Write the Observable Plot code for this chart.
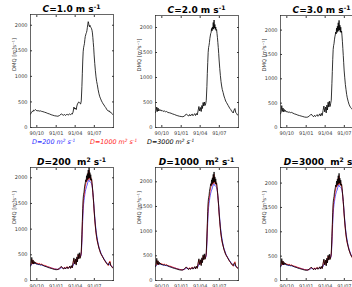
<!DOCTYPE html>
<html><head><meta charset="utf-8">
<script src="https://cdn.jsdelivr.net/npm/d3@7"></script>
<script src="https://cdn.jsdelivr.net/npm/@observablehq/plot@0.6"></script>
<style>
body{margin:0;background:#fff;}
#wrap{position:relative;width:352px;height:287px;overflow:hidden;background:#fff;font-family:"DejaVu Sans",sans-serif;}
.panel{position:absolute;}
.panel svg{max-width:none !important;}
.title{position:absolute;transform:translateX(-50%);white-space:pre;font-weight:bold;font-size:9px;color:#000;line-height:1;}
.sup{font-size:0.68em;position:relative;top:-0.45em;}
.leg{position:absolute;font-style:italic;font-size:6.4px;white-space:pre;line-height:1;}
</style></head><body><div id="wrap"></div>
<script>
// ---------- data ----------
const dates = [
"1990-09-01","1990-09-04","1990-09-07","1990-09-10","1990-09-13","1990-09-16","1990-09-19","1990-09-22","1990-09-25","1990-09-28",
"1990-10-02","1990-10-07","1990-10-12","1990-10-18","1990-10-24","1990-10-30",
"1990-11-06","1990-11-14","1990-11-22","1990-11-30",
"1990-12-08","1990-12-16","1990-12-24",
"1991-01-01","1991-01-09","1991-01-17","1991-01-25",
"1991-02-02","1991-02-06","1991-02-10","1991-02-14","1991-02-18","1991-02-22","1991-02-26",
"1991-03-02","1991-03-06","1991-03-10","1991-03-14","1991-03-18","1991-03-22","1991-03-26","1991-03-30",
"1991-04-03","1991-04-06","1991-04-09","1991-04-12","1991-04-15","1991-04-18","1991-04-21","1991-04-24","1991-04-27","1991-04-30",
"1991-05-03","1991-05-05","1991-05-07","1991-05-09","1991-05-11","1991-05-13","1991-05-15","1991-05-17","1991-05-19","1991-05-21","1991-05-23","1991-05-25","1991-05-27","1991-05-29","1991-05-31",
"1991-06-02","1991-06-04","1991-06-06","1991-06-08","1991-06-10","1991-06-12","1991-06-14","1991-06-16","1991-06-18","1991-06-20","1991-06-22","1991-06-24","1991-06-26","1991-06-28","1991-06-30",
"1991-07-03","1991-07-06","1991-07-09","1991-07-12","1991-07-15","1991-07-19","1991-07-23","1991-07-27","1991-07-31",
"1991-08-04","1991-08-08","1991-08-12","1991-08-16","1991-08-20","1991-08-24","1991-08-28",
"1991-09-01","1991-09-05","1991-09-09","1991-09-13","1991-09-17","1991-09-21","1991-09-25","1991-09-29"
];
// top row, C = 1.0
const flowC1 = [
260,285,300,320,310,340,330,345,350,335,
325,330,320,325,315,310,
300,290,275,265,
250,240,230,
225,220,235,265,
245,240,255,235,250,260,240,
255,265,250,270,260,300,400,360,
380,350,420,460,480,500,490,470,460,520,
800,1050,1300,1480,1560,1600,1640,1720,1780,1810,1840,1860,1900,1960,2020,
2070,2040,1990,1970,2000,1980,1960,1950,1930,1900,1850,1760,1660,1560,1420,
1250,1110,990,900,840,740,660,600,560,
520,490,460,440,410,390,360,
335,320,330,300,300,275,260,250
];
// top row, C = 2.0 (also red line in bottom row)
const flowC2 = [
300,330,410,320,390,330,360,340,355,330,
345,320,335,315,320,300,
295,285,270,260,
245,235,225,
220,215,230,270,
240,230,260,230,255,270,235,
260,275,240,280,250,330,420,330,
400,320,440,380,500,430,510,440,470,540,
820,1080,1300,1500,1600,1640,1700,1780,1830,1880,1900,1980,1930,2010,1960,
2100,1970,2150,1990,2060,1960,2010,1940,1960,1880,1800,1700,1600,1480,1350,
1180,1040,920,830,760,700,630,580,530,
500,470,440,410,380,360,330,
310,290,350,380,300,280,250,240
];
// top row, C = 3.0
const flowC3 = [
280,320,450,330,400,320,370,330,350,320,
330,310,320,305,310,295,
280,270,255,245,
235,225,215,
210,215,240,275,
230,225,250,225,245,265,230,
250,280,235,290,245,350,440,320,
420,300,460,360,520,420,540,430,490,560,
900,1150,1400,1600,1680,1720,1800,1860,1900,1960,1920,2040,1950,2080,1970,
2150,1990,2200,2000,2100,1960,2060,1950,1980,1880,1760,1620,1480,1330,1180,
1020,880,780,680,610,540,480,440,410,
390,370,350,330,310,300,290,
280,270,320,350,280,260,240,230
];
// bottom row, black line
const flowBlack = [
280,320,450,330,400,320,370,330,350,320,
330,310,320,305,310,295,
280,270,255,245,
235,225,215,
210,215,240,275,
230,225,250,225,245,265,230,
250,280,235,290,245,350,440,320,
420,300,460,360,520,420,540,430,490,560,
900,1150,1400,1600,1680,1720,1800,1860,1900,1960,1920,2040,1950,2080,1970,
2150,1990,2200,2000,2100,1960,2060,1950,1980,1900,1820,1720,1620,1500,1370,
1200,1060,940,850,780,700,630,580,530,
500,470,440,410,385,360,335,
315,300,340,360,290,270,250,240
];
// bottom row, smooth blue line
const flowBlue = [
280,300,320,330,335,335,335,335,330,325,
320,315,310,305,300,295,
285,275,265,255,
245,235,225,
220,218,225,250,
245,235,245,240,245,255,245,
250,260,255,265,260,285,340,360,
370,360,400,430,460,470,480,470,465,500,
740,960,1180,1360,1480,1560,1620,1680,1730,1770,1800,1830,1850,1880,1910,
1940,1960,1950,1930,1930,1920,1910,1900,1880,1850,1790,1710,1620,1520,1400,
1240,1100,980,890,810,720,650,600,550,
510,480,450,420,395,370,350,
330,315,310,310,295,280,265,255
];
const cValues = ["1.0", "2.0", "3.0"];
const dValues = ["200", "1000", "3000"];
const dColors = ["#2a2aff", "#ff1a1a", "#000000"];
const xTicks = ["1990-10-01", "1991-01-01", "1991-04-01", "1991-07-01"];
const yTicks = [0, 500, 1000, 1500, 2000];
const xDomain = ["1990-09-01", "1991-09-30"];
const yLabel = "DMQ [m³s⁻¹]";

// ---------- drawing ----------
const toDate = s => new Date(s + "T00:00:00Z");
const rows = vals => dates.map((d, i) => ({date: toDate(d), v: vals[i]}));
const wrap = document.getElementById("wrap");
const W = 83, ML = 30, MR = 2, MT = 2, MB = 12;

const sup = t => `<span class="sup">${t}</span>`;
const bottomLines = [[dColors[0], flowBlue], [dColors[1], flowC2], [dColors[2], flowBlack]];
const panels = [
  {left: 30, top: 14, h: 113, ymax: 2210, lines: [["#000", flowC1]],
   title: `<i>C</i>=${cValues[0]} m s${sup("-1")}`},
  {left: 155, top: 15, h: 112, ymax: 2240, lines: [["#000", flowC2]],
   title: `<i>C</i>=${cValues[1]} m s${sup("-1")}`},
  {left: 280, top: 15, h: 112, ymax: 2300, lines: [["#000", flowC3]],
   title: `<i>C</i>=${cValues[2]} m s${sup("-1")}`},
  {left: 30, top: 167, h: 113, ymax: 2200, lines: bottomLines,
   title: `<i>D</i>=${dValues[0]}  m${sup("2")} s${sup("-1")}`},
  {left: 155, top: 167, h: 113, ymax: 2290, lines: bottomLines,
   title: `<i>D</i>=${dValues[1]}  m${sup("2")} s${sup("-1")}`},
  {left: 280, top: 167, h: 113, ymax: 2320, lines: bottomLines,
   title: `<i>D</i>=${dValues[2]}  m${sup("2")} s${sup("-1")}`}
];

for (const p of panels) {
  const w = ML + W + MR, h = MT + p.h + MB;
  const chart = Plot.plot({
    width: w, height: h,
    marginLeft: ML, marginRight: MR, marginTop: MT, marginBottom: MB,
    style: {fontFamily: "'DejaVu Sans', sans-serif", fontSize: "5px", color: "#3a3a3a", background: "transparent", overflow: "visible", maxWidth: "none"},
    x: {type: "utc", domain: xDomain.map(toDate)},
    y: {domain: [0, p.ymax]},
    marks: [
      ...p.lines.map(([c, vals]) => Plot.lineY(rows(vals), {x: "date", y: "v", stroke: c, strokeWidth: 0.8, clip: true})),
      Plot.frame({stroke: "#262626", strokeWidth: 0.7}),
      Plot.axisX(xTicks.map(toDate), {anchor: "bottom", tickSize: -2, tickPadding: 6, tickFormat: d3.utcFormat("%y/%m"), label: null}),
      Plot.axisX(xTicks.map(toDate), {anchor: "top", tickSize: -2, tickFormat: () => "", label: null}),
      Plot.axisY(yTicks, {anchor: "left", tickSize: -2, tickPadding: 5, tickFormat: d => String(d), label: null}),
      Plot.axisY(yTicks, {anchor: "right", tickSize: -2, tickFormat: () => "", label: null}),
      Plot.text([yLabel], {frameAnchor: "left", rotate: -90, dx: -16, fontSize: 5.2, fill: "#3a3a3a"})
    ]
  });
  const div = document.createElement("div");
  div.className = "panel";
  div.style.left = (p.left - ML) + "px";
  div.style.top = (p.top - MT) + "px";
  div.style.width = w + "px";
  div.style.height = h + "px";
  div.appendChild(chart);
  wrap.appendChild(div);
  const t = document.createElement("div");
  t.className = "title";
  t.innerHTML = p.title;
  t.style.left = (p.left + W / 2) + "px";
  t.style.top = (p.top - 9) + "px";
  wrap.appendChild(t);
}

// legend row between the two rows
const legLeft = [32, 90, 147];
dValues.forEach((d, i) => {
  const l = document.createElement("div");
  l.className = "leg";
  l.style.left = legLeft[i] + "px";
  l.style.top = "139px";
  l.style.color = dColors[i];
  l.innerHTML = `D=${d} m${sup("2")} s${sup("-1")}`;
  wrap.appendChild(l);
});
</script></body></html>
